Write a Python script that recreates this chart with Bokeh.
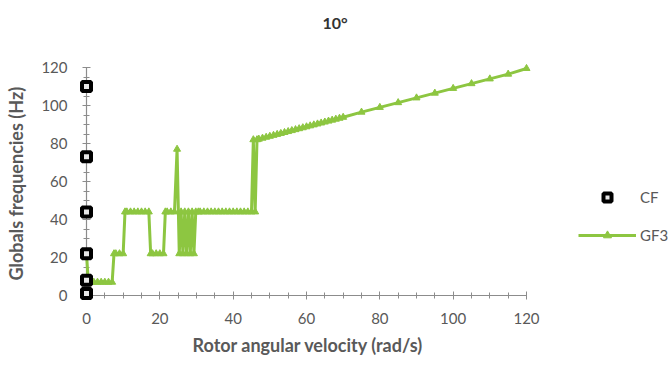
from bokeh.plotting import figure
from bokeh.models import ColumnDataSource, Legend, LegendItem, SingleIntervalTicker, Range1d, Title
from bokeh.embed import file_html
from bokeh.resources import INLINE

# ---- data ----
cf_x = [0, 0, 0, 0, 0, 0]
cf_y = [1, 8, 22, 44, 73, 110]

gf3_x = [0, 0.5, 1, 2, 3, 4, 5, 6, 7, 7.5, 8, 9, 10, 10.5, 11, 12, 13, 14, 15, 16, 17,
         17.5, 18, 19, 20, 21, 21.5, 22, 23, 24, 24.7, 25.3, 25.8, 26.3, 26.8, 27.3, 27.8,
         28.3, 28.8, 29.3, 29.8, 30.5, 31, 32, 33, 34, 35, 36, 37, 38, 39, 40, 41, 42, 43,
         44, 45, 45.5, 46, 46.5, 47, 48, 49, 50, 51, 52, 53, 54, 55, 56, 57, 58, 59, 60, 61,
         62, 63, 64, 65, 66, 67, 68, 69, 70, 75, 80, 85, 90, 95, 100, 105, 110, 115, 120]
gf3_y = [22, 7, 7, 7, 7, 7, 7, 7, 7, 22, 22, 22, 22, 44, 44, 44, 44, 44, 44, 44, 44,
         22, 22, 22, 22, 22, 44, 44, 44, 44, 77, 22, 44, 22, 44, 22, 44,
         22, 44, 22, 44, 44, 44, 44, 44, 44, 44, 44, 44, 44, 44, 44, 44, 44, 44,
         44, 44, 82, 44, 82, 82.3, 82.8, 83.3, 83.8, 84.3, 84.8, 85.3, 85.8, 86.3, 86.8, 87.3, 87.8, 88.3, 88.8, 89.3,
         89.8, 90.3, 90.8, 91.3, 91.8, 92.3, 92.8, 93.3, 93.8, 96.5, 99, 101.5, 104, 106.5, 109, 111.5, 114, 116.5, 119.5]

x_axis_max = 120
y_axis_max = 120
x_tick_interval = 20
y_tick_interval = 20
title_text = "10°"
x_title = "Rotor angular velocity (rad/s)"
y_title = "Globals  frequencies (Hz)"

GREEN = "#8dc641"
AXIS = "#8c8c8c"
TEXT = "#595959"
FONT = "Lato"

# the frame extends to the right edge so the legend (drawn inside it) is not clipped;
# the axis itself is bounded to 0..120 and occupies the left 440 px of the 586 px frame
x_end = x_axis_max * 586 / 440

p = figure(width=672, height=365, output_backend="svg", toolbar_location=None, title=None,
           x_range=Range1d(0, x_end), y_range=Range1d(0, y_axis_max),
           min_border_left=86, min_border_right=0, min_border_top=67, min_border_bottom=70)

# spacer closest to the frame, then the real title above it
p.add_layout(Title(text=" ", text_font_size="10px", standoff=23, text_color="white"), "above")
p.add_layout(Title(text=title_text, align="left", offset=236, standoff=0,
                   text_font=FONT, text_font_size="16px", text_font_style="bold",
                   text_color="#333333"), "above")

p.grid.visible = False
p.outline_line_color = None
p.background_fill_color = "white"
p.border_fill_color = "white"

for ax, interval, top in ((p.xaxis[0], x_tick_interval, x_axis_max),
                          (p.yaxis[0], y_tick_interval, y_axis_max)):
    ax.ticker = SingleIntervalTicker(interval=interval, num_minor_ticks=4)
    ax.bounds = (0, top)
    ax.axis_line_color = AXIS
    ax.axis_line_width = 1.2
    ax.major_tick_line_color = AXIS
    ax.minor_tick_line_color = AXIS
    ax.major_tick_in = 4
    ax.major_tick_out = 4
    ax.minor_tick_in = 3
    ax.minor_tick_out = 3
    ax.major_label_text_font = FONT
    ax.major_label_text_font_size = "15px"
    ax.major_label_text_color = TEXT
    ax.axis_label_text_font = FONT
    ax.axis_label_text_font_size = "18px"
    ax.axis_label_text_font_style = "bold"
    ax.axis_label_text_color = TEXT

p.yaxis.axis_label = y_title
p.xaxis.major_label_standoff = 13
p.yaxis.major_label_standoff = 15
p.yaxis.axis_label_standoff = 11

# x-axis title, centred under the 0..120 axis (not under the wider frame)
p.add_layout(Title(text=x_title, align="left", offset=106, standoff=10,
                   text_font=FONT, text_font_size="18px", text_font_style="bold",
                   text_color=TEXT), "below")

src_g = ColumnDataSource(dict(x=gf3_x, y=gf3_y))
src_c = ColumnDataSource(dict(x=cf_x, y=cf_y))

gl = p.line("x", "y", source=src_g, line_color=GREEN, line_width=3, level="overlay")
gm = p.scatter("x", "y", source=src_g, marker="triangle", size=7,
               fill_color=GREEN, line_color=GREEN, level="overlay")
cm = p.scatter("x", "y", source=src_c, marker="square", size=9,
               fill_color="#e8e8e8", line_color="black", line_width=4, level="overlay")

legend = Legend(items=[LegendItem(label="CF", renderers=[cm]),
                       LegendItem(label="GF3", renderers=[gl, gm])],
                location=(492, 50),
                border_line_color=None, background_fill_alpha=0,
                label_text_font=FONT, label_text_font_size="15px",
                label_text_color=TEXT, glyph_width=58, glyph_height=20,
                spacing=18, label_standoff=4, margin=0, padding=0)
p.add_layout(legend, "center")

open("out.html", "w").write(file_html(p, INLINE))
